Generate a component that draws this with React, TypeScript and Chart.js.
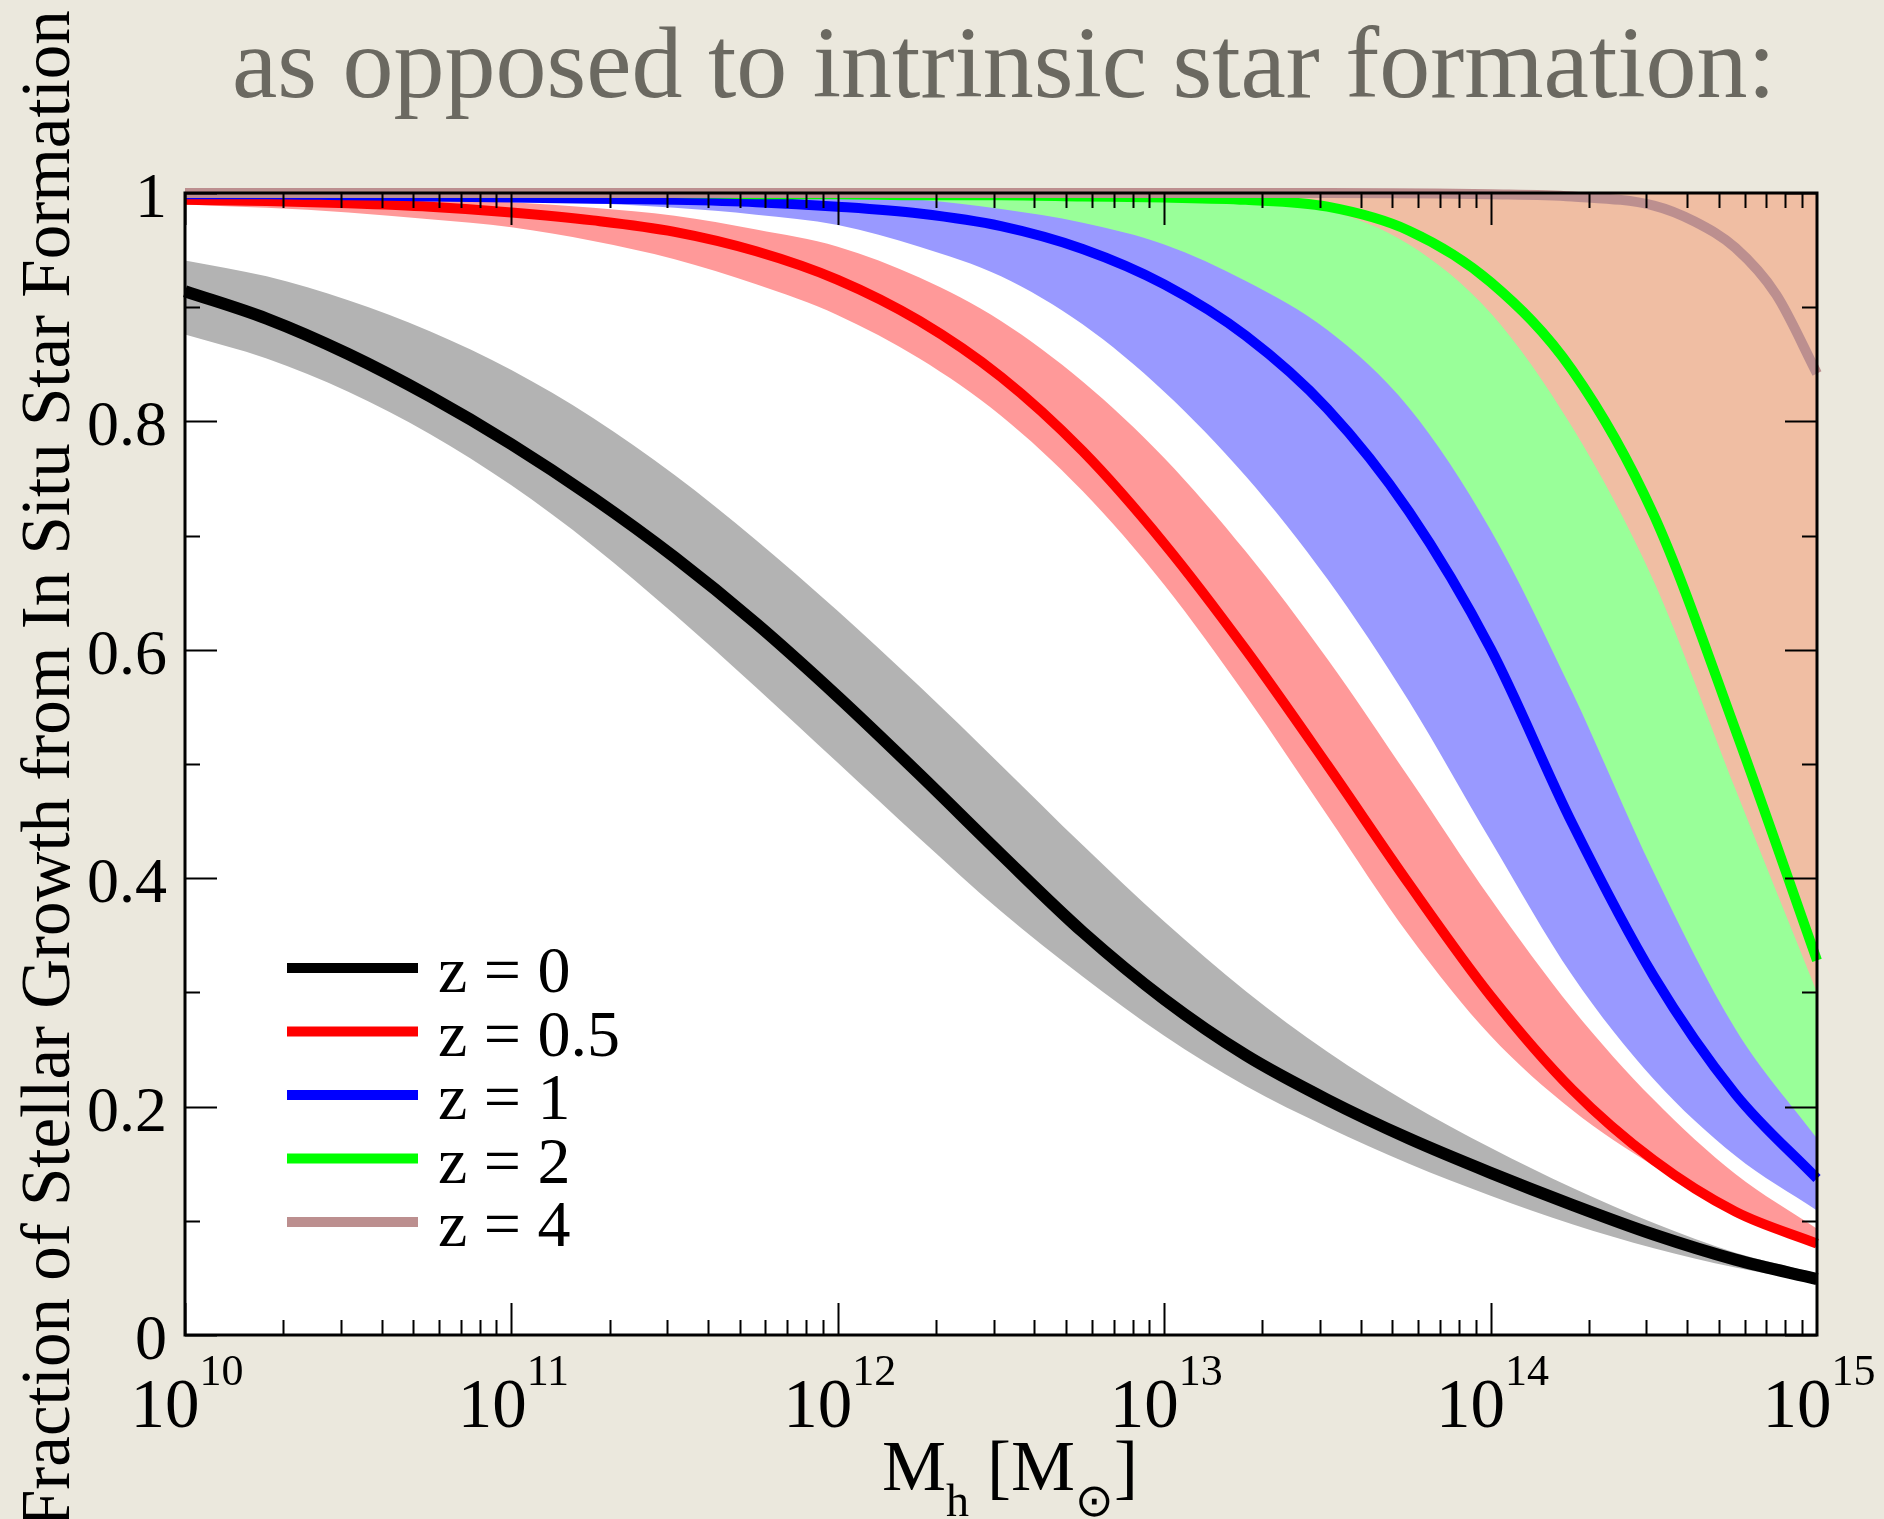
import React, { useEffect, useRef } from 'react';
import { Chart, registerables } from 'chart.js';

Chart.register(...registerables);

// ---------- data (log10 of halo mass, fraction of in-situ growth) ----------
const LOG_MH = [10, 10.25, 10.5, 10.75, 11, 11.25, 11.5, 11.75, 12, 12.25, 12.5, 12.75, 13, 13.25, 13.5, 13.75, 14, 14.25, 14.5, 14.75, 15];

// z = 0
const Z0_MID = [0.914, 0.890, 0.859, 0.822, 0.780, 0.733, 0.681, 0.623, 0.559, 0.491, 0.421, 0.353, 0.294, 0.245, 0.206, 0.172, 0.142, 0.114, 0.088, 0.066, 0.049];
const Z0_HI = [0.941, 0.927, 0.906, 0.879, 0.845, 0.803, 0.753, 0.696, 0.634, 0.568, 0.499, 0.429, 0.362, 0.301, 0.248, 0.203, 0.164, 0.129, 0.098, 0.072, 0.054];
const Z0_LO = [0.876, 0.855, 0.826, 0.789, 0.744, 0.691, 0.631, 0.567, 0.501, 0.435, 0.371, 0.314, 0.262, 0.218, 0.182, 0.150, 0.122, 0.097, 0.076, 0.059, 0.046];

// z = 0.5
const Z05_MID = [0.994, 0.993, 0.991, 0.988, 0.983, 0.976, 0.966, 0.949, 0.924, 0.888, 0.839, 0.774, 0.693, 0.600, 0.499, 0.395, 0.297, 0.215, 0.153, 0.108, 0.080];
const Z05_HI = [0.999, 0.998, 0.997, 0.995, 0.992, 0.987, 0.980, 0.968, 0.953, 0.926, 0.888, 0.835, 0.768, 0.686, 0.592, 0.488, 0.382, 0.286, 0.206, 0.141, 0.093];
const Z05_LO = [0.990, 0.987, 0.983, 0.977, 0.970, 0.958, 0.942, 0.920, 0.893, 0.855, 0.805, 0.739, 0.657, 0.560, 0.455, 0.350, 0.262, 0.197, 0.148, 0.108, 0.077];

// z = 1
const Z1_MID = [0.999, 0.999, 0.998, 0.997, 0.996, 0.995, 0.994, 0.992, 0.988, 0.982, 0.971, 0.951, 0.920, 0.875, 0.811, 0.721, 0.601, 0.448, 0.314, 0.211, 0.137];
const Z1_LO = [0.999, 0.998, 0.997, 0.996, 0.994, 0.991, 0.987, 0.981, 0.972, 0.953, 0.927, 0.885, 0.826, 0.752, 0.662, 0.555, 0.433, 0.315, 0.224, 0.157, 0.109];

// z = 2
const Z2_MID = [1.0, 1.0, 1.0, 1.0, 1.0, 1.0, 1.0, 0.999, 0.999, 0.998, 0.998, 0.997, 0.996, 0.994, 0.988, 0.967, 0.922, 0.845, 0.718, 0.530, 0.328];
const Z2_LO = [1.0, 1.0, 1.0, 1.0, 1.0, 1.0, 0.999, 0.998, 0.997, 0.994, 0.986, 0.974, 0.955, 0.923, 0.880, 0.812, 0.705, 0.563, 0.405, 0.268, 0.172];

// z = 4
const Z4_LO = [1.0, 1.0, 1.0, 1.0, 1.0, 1.0, 1.0, 1.0, 1.0, 1.0, 1.0, 0.999, 0.998, 0.994, 0.985, 0.955, 0.895, 0.795, 0.660, 0.478, 0.300];
const LOG_MH_Z4 = [10, 11, 12, 13, 13.5, 14, 14.25, 14.5, 14.625, 14.75, 14.875, 15];
const Z4_MID = [1.0, 1.0, 1.0, 1.0, 1.0, 0.999, 0.997, 0.989, 0.975, 0.952, 0.911, 0.842];

const LEGEND_LABELS = ['z = 0', 'z = 0.5', 'z = 1', 'z = 2', 'z = 4'];
const LINE_COLORS = ['#000000', '#ff0000', '#0000ff', '#00ff00', '#bc8f8f'];
const BAND_COLORS = ['#b3b3b3', '#ff9999', '#9999ff', '#99ff99', '#f0bea3'];

const X_TICK_EXPONENTS = [10, 11, 12, 13, 14, 15];
const Y_TICKS = [0, 0.2, 0.4, 0.6, 0.8, 1];
const Y_TICK_LABELS = ['0', '0.2', '0.4', '0.6', '0.8', '1'];

const FONT = "'Liberation Serif', 'Times New Roman', serif";

const toPts = (xs: number[], ys: number[]) => xs.map((lg, i) => ({ x: Math.pow(10, lg), y: ys[i] }));

export default function App() {
  const ref = useRef<HTMLCanvasElement>(null);

  useEffect(() => {
    const canvas = ref.current!;

    const edge = (ys: number[], extra: any) => ({
      data: toPts(LOG_MH, ys),
      borderColor: 'rgba(0,0,0,0)',
      borderWidth: 0,
      pointRadius: 0,
      fill: false,
      cubicInterpolationMode: 'monotone',
      ...extra,
    });
    const line = (xs: number[], ys: number[], i: number, width: number) => ({
      data: toPts(xs, ys),
      borderColor: LINE_COLORS[i],
      borderWidth: width,
      pointRadius: 0,
      fill: false,
      cubicInterpolationMode: 'monotone',
      order: 5 - i,
      clip: 8,
    });

    const datasets: any[] = [
      edge(Z0_HI, { order: 30 }), // 0
      edge(Z0_LO, { order: 20, fill: { target: 0 }, backgroundColor: BAND_COLORS[0] }), // 1
      edge(Z05_HI, { order: 30 }), // 2
      edge(Z05_LO, { order: 19, fill: { target: 2 }, backgroundColor: BAND_COLORS[1] }), // 3
      edge(Z1_LO, { order: 18, fill: 'end', backgroundColor: BAND_COLORS[2] }), // 4
      edge(Z2_LO, { order: 17, fill: 'end', backgroundColor: BAND_COLORS[3] }), // 5
      edge(Z4_LO, { order: 16, fill: 'end', backgroundColor: BAND_COLORS[4] }), // 6
      line(LOG_MH, Z0_MID, 0, 12),
      line(LOG_MH, Z05_MID, 1, 10),
      line(LOG_MH, Z1_MID, 2, 10),
      line(LOG_MH, Z2_MID, 3, 10),
      line(LOG_MH_Z4, Z4_MID, 4, 10),
    ];

    const decor = {
      id: 'decor',
      beforeDraw(chart: any) {
        const { ctx, chartArea: a } = chart;
        ctx.save();
        ctx.fillStyle = '#ffffff';
        ctx.fillRect(a.left, a.top, a.right - a.left, a.bottom - a.top);
        ctx.restore();
      },
      afterDraw(chart: any) {
        const { ctx, chartArea: a, scales } = chart;
        const xs = scales.x;
        const ys = scales.y;
        ctx.save();
        ctx.strokeStyle = '#000';
        ctx.fillStyle = '#000';

        // ticks (inside, on all four sides)
        ctx.lineWidth = 2;
        ctx.beginPath();
        for (let e = 10; e < 15; e++) {
          for (let k = 1; k <= 9; k++) {
            const v = k * Math.pow(10, e);
            const px = Math.round(xs.getPixelForValue(v)) + 0.5;
            const len = k === 1 ? 32 : 15;
            ctx.moveTo(px, a.bottom); ctx.lineTo(px, a.bottom - len);
            ctx.moveTo(px, a.top); ctx.lineTo(px, a.top + len);
          }
        }
        for (let j = 0; j <= 10; j++) {
          const py = Math.round(ys.getPixelForValue(j / 10)) + 0.5;
          const len = j % 2 === 0 ? 32 : 15;
          ctx.moveTo(a.left, py); ctx.lineTo(a.left + len, py);
          ctx.moveTo(a.right, py); ctx.lineTo(a.right - len, py);
        }
        ctx.stroke();

        // frame
        ctx.lineWidth = 3;
        ctx.strokeRect(a.left, a.top, a.right - a.left, a.bottom - a.top);

        // y tick labels
        ctx.font = `64px ${FONT}`;
        ctx.textAlign = 'right';
        ctx.textBaseline = 'alphabetic';
        Y_TICKS.forEach((v, i) => {
          const py = ys.getPixelForValue(v);
          ctx.fillText(Y_TICK_LABELS[i], a.left - 18, py + 24);
        });

        // x tick labels 10^n
        ctx.textAlign = 'left';
        X_TICK_EXPONENTS.forEach((e) => {
          const px = xs.getPixelForValue(Math.pow(10, e));
          ctx.font = `69px ${FONT}`;
          const wb = ctx.measureText('10').width;
          ctx.font = `44px ${FONT}`;
          const we = ctx.measureText(String(e)).width;
          const x0 = px - (wb + we) / 2 + 2;
          ctx.font = `69px ${FONT}`;
          ctx.fillText('10', x0, a.bottom + 92);
          ctx.font = `44px ${FONT}`;
          ctx.fillText(String(e), x0 + wb, a.bottom + 50);
        });

        // legend
        LEGEND_LABELS.forEach((lab, i) => {
          const y = a.top + 775 + i * 63.5;
          ctx.strokeStyle = LINE_COLORS[i];
          ctx.lineWidth = 10;
          ctx.beginPath();
          ctx.moveTo(a.left + 102, y);
          ctx.lineTo(a.left + 233, y);
          ctx.stroke();
          ctx.fillStyle = '#000';
          ctx.font = `66px ${FONT}`;
          ctx.fillText(lab, a.left + 253, y + 24);
        });
        ctx.restore();
      },
    };

    const chart = new Chart(canvas, {
      type: 'line',
      data: { datasets },
      options: {
        responsive: false,
        animation: false,
        devicePixelRatio: 1,
        layout: { padding: { left: 185, right: 67, top: 193, bottom: 184 } },
        scales: {
          x: { type: 'logarithmic', min: 1e10, max: 1e15, display: false },
          y: { type: 'linear', min: 0, max: 1, display: false },
        },
        plugins: {
          legend: { display: false },
          tooltip: { enabled: false },
        },
        elements: { point: { radius: 0 } },
      } as any,
      plugins: [decor],
    });
    return () => chart.destroy();
  }, []);

  return (
    <div
      style={{
        position: 'fixed',
        left: 0,
        top: 0,
        width: 1884,
        height: 1519,
        overflow: 'hidden',
        background: '#ebe8dd',
        fontFamily: FONT,
      }}
    >
      <canvas ref={ref} width={1884} height={1519} style={{ position: 'absolute', left: 0, top: 0 }} />
      <div
        style={{
          position: 'absolute',
          left: 232,
          top: 12,
          fontSize: 102,
          lineHeight: 1,
          color: '#6b6961',
          whiteSpace: 'nowrap',
        }}
      >
        as opposed to intrinsic star formation:
      </div>
      <div
        style={{
          position: 'absolute',
          left: 12,
          top: 1528,
          fontSize: 69,
          lineHeight: 1,
          color: '#000',
          whiteSpace: 'nowrap',
          transform: 'rotate(-90deg)',
          transformOrigin: '0 0',
        }}
      >
        Fraction of Stellar Growth from In Situ Star Formation
      </div>
      <div
        style={{
          position: 'absolute',
          left: 882,
          top: 1430,
          fontSize: 72,
          lineHeight: 1,
          color: '#000',
          whiteSpace: 'nowrap',
        }}
      >
        M<span style={{ fontSize: 46, position: 'relative', top: 26 }}>h</span> [M
        <span style={{ fontSize: 46, position: 'relative', top: 26 }}>⊙</span>]
      </div>
    </div>
  );
}
